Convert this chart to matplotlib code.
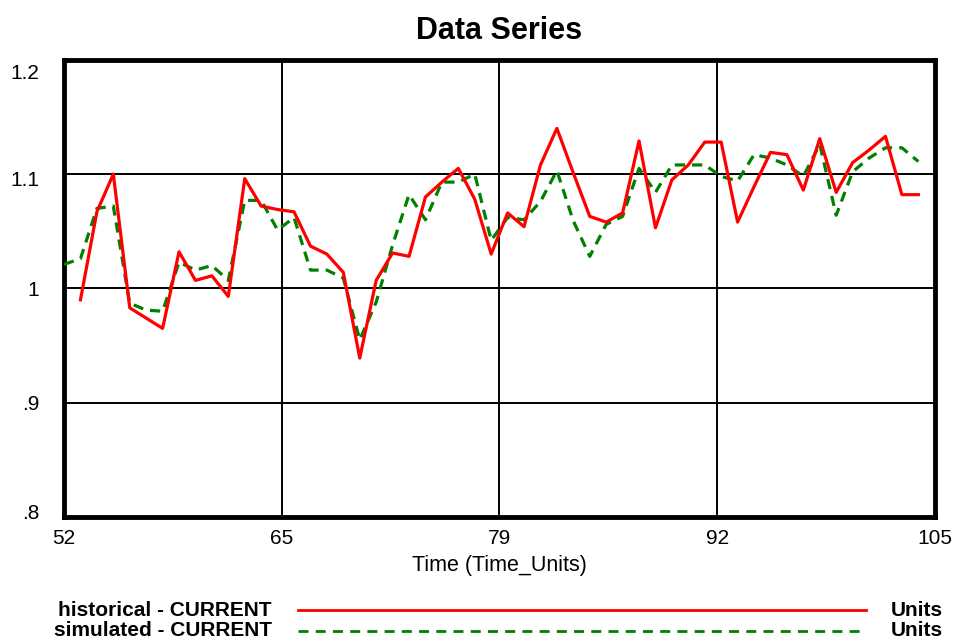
import numpy as np
import matplotlib
matplotlib.use("Agg")
from matplotlib import pyplot as plt
from matplotlib.transforms import ScaledTranslation

plt.rcParams['font.family'] = ['Liberation Sans', 'DejaVu Sans']

# historical series, one value per time step 53..104
hist_t = list(range(53, 105))
hist_v = [0.990, 1.067, 1.100, 0.983, 0.974, 0.965, 1.032, 1.007, 1.011, 0.993,
          1.096, 1.072, 1.069, 1.067, 1.037, 1.030, 1.014, 0.939, 1.007, 1.031,
          1.028, 1.080, 1.093, 1.105, 1.078, 1.030, 1.066, 1.054, 1.108, 1.140,
          1.101, 1.063, 1.058, 1.066, 1.129, 1.053, 1.095, 1.108, 1.128, 1.128,
          1.058, 1.089, 1.119, 1.117, 1.086, 1.131, 1.084, 1.110, 1.121, 1.133,
          1.082, 1.082]

# simulated series, time steps 52..104
sim_t = list(range(52, 105))
sim_v = [1.021, 1.026, 1.070, 1.072, 0.987, 0.981, 0.980, 1.023, 1.016, 1.020,
         1.007, 1.077, 1.077, 1.051, 1.062, 1.016, 1.016, 1.009, 0.955, 0.988,
         1.038, 1.082, 1.060, 1.093, 1.093, 1.100, 1.042, 1.062, 1.060, 1.076,
         1.103, 1.059, 1.028, 1.056, 1.063, 1.105, 1.084, 1.108, 1.108, 1.108,
         1.098, 1.094, 1.117, 1.114, 1.108, 1.098, 1.126, 1.064, 1.102, 1.114,
         1.123, 1.123, 1.111]

x_ticks = [52, 65.25, 78.5, 91.75, 105]
x_labels = ["52", "65", "79", "92", "105"]
y_ticks = [0.8, 0.9, 1.0, 1.1, 1.2]
y_labels = [".8", ".9", "1", "1.1", "1.2"]

dash = (0, (3.2, 2.2))

fig = plt.figure(figsize=(9.6, 6.43), dpi=100)
ax = fig.add_axes([0.0667, 0.196, 0.907, 0.711])

ax.plot(sim_t, sim_v, color="green", lw=2.3, ls=dash, zorder=3)
ax.plot(hist_t, hist_v, color="red", lw=2.3, zorder=4)

ax.set_xlim(52, 105)
ax.set_ylim(0.8, 1.2)
ax.set_xticks(x_ticks)
ax.set_xticklabels(x_labels)
ax.set_yticks(y_ticks)
ax.set_yticklabels(y_labels)
ax.tick_params(length=0, labelsize=15)
ax.tick_params(axis="x", pad=9)
ax.tick_params(axis="y", pad=18)
ax.grid(True, color="black", lw=1.4)
for s in ax.spines.values():
    s.set_linewidth(3.5)

# the y labels sit a little inside the range, like the original
shifts = [5, 0, 0, -4, -12]
for lab, dy in zip(ax.get_yticklabels(), shifts):
    lab.set_transform(lab.get_transform() + ScaledTranslation(0, dy / 100, fig.dpi_scale_trans))

ax.set_title("Data Series", fontsize=22, fontweight="bold", pad=15)
ax.set_xlabel("Time (Time_Units)", fontsize=15.5, labelpad=5)

# legend rows below the plot
rows = [("historical - CURRENT", "red", "-"), ("simulated - CURRENT", "green", (0, (3.6, 2.6)))]
for i, (name, col, ls) in enumerate(rows):
    yy = 1 - (610 + i * 21) / 643
    fig.text(272 / 960, yy, name, ha="right", va="center", fontsize=15, fontweight="bold")
    fig.add_artist(plt.Line2D([298 / 960, 866 / 960], [yy, yy], color=col, lw=2, ls=ls))
    fig.text(943 / 960, yy, "Units", ha="right", va="center", fontsize=15, fontweight="bold")

fig.savefig("out.png", dpi=100)
